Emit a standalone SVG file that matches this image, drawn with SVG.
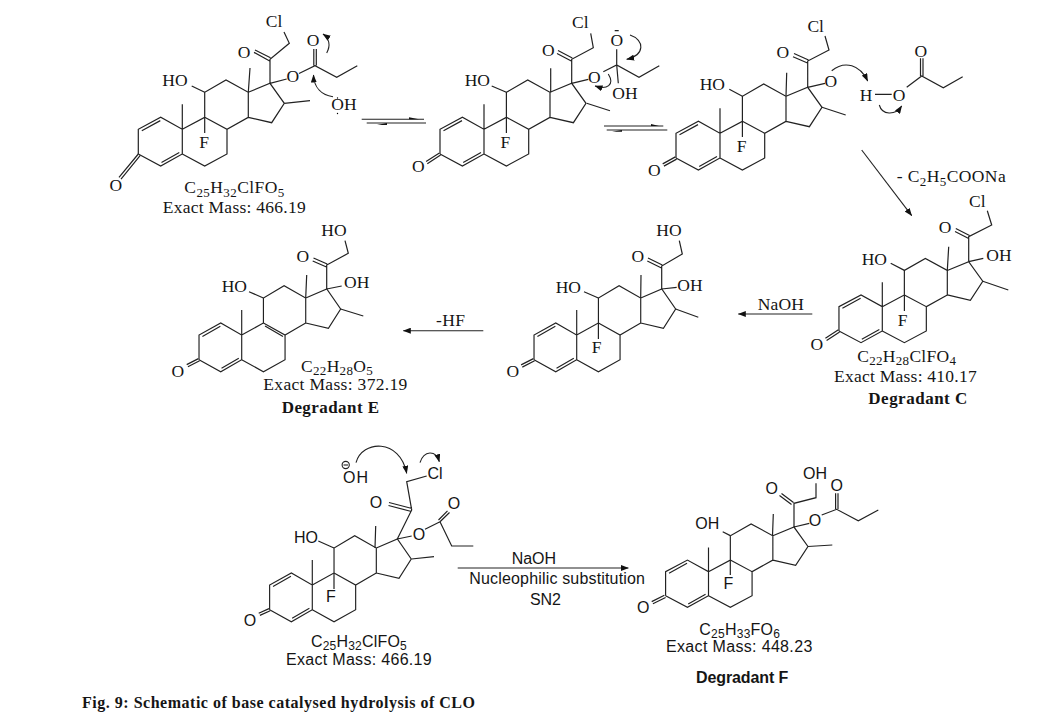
<svg xmlns="http://www.w3.org/2000/svg" width="1064" height="717" viewBox="0 0 1064 717">
<style>
.b{fill:none;stroke:#222;stroke-width:1.2}
.c{fill:none;stroke:#222;stroke-width:1.1}
.ar{marker-end:url(#h)}
text{fill:#151515;font-family:"Liberation Serif","Times New Roman",serif;font-size:17.5px}
.m{text-anchor:middle}
.s text,text.s{font-family:"Liberation Sans",Arial,sans-serif;font-size:16px}
text.k{font-weight:bold;font-size:17px}
.s text.k{font-size:16px}
text.cap{font-weight:bold;font-size:16px}
.u{font-size:13px}
.s .u{font-size:12px}
</style>
<defs>
<marker id="h" markerWidth="8" markerHeight="6" refX="7.5" refY="3" orient="auto" markerUnits="userSpaceOnUse"><path d="M0 0L8 3L0 6z" fill="#111"/></marker>
<path id="core" class="b" d="M-44 24.7V0L-21.6-12L0 0V24.7L-21.6 36.7L-44 24.7M0 0L22.4-12V-37L43.7-49.3L66-37V-12L44.7 0L22.4-12M66-12L44.7 0V24.7L22.4 36.7L0 24.7M0 0V-25M66-37L87.7-46L102-26L89.4-6.6L66-12M-40.5 1.5L-22-8.7M-20.8 33.3L-3 23.3"/>
</defs>

<g id="connectors">
<path class="c" d="M361.7 119.3H424M366.7 123H426M604 126H663.3M606.7 130H667.3"/>
<path d="M409 117.2L419 119.3H409zM377 125L387 123V125zM651 124L659 126H651zM612 131.8L622 130V131.8z" fill="#111"/>
<path class="c ar" d="M861.7 150L911.7 215.7"/>
<path class="c ar" d="M812.3 314H738.3"/>
<path class="c ar" d="M483.3 330.7H403.3"/>
<path class="c ar" d="M457.7 568H628.3"/>
<path class="c ar" d="M333 96.7C322 95 314 88 313.5 75"/>
<path class="c ar" d="M326.7 53C331 45 329 38 323 34"/>
<path class="c ar" d="M630 35C645 40 645 55 626.7 59.3"/>
<path class="c ar" d="M608.3 74C615 85 607 90 595 86"/>
<path class="c ar" d="M831.7 70.7C845 60 860 65 867.7 81"/>
<path class="c ar" d="M879.3 105C882 115 895 116 901.7 106"/>
<path class="c ar" d="M356 462.7C362 440 400 438 406.7 473.3"/>
<path class="c ar" d="M420 462.7C424 450 436 450 439.3 461.7"/>
</g>

<g id="clo-ester">
<use href="#core" transform="translate(182.3 129.3)"/>
<path class="b" d="M270 83.3V59.3L289.3 43.3L284 32M269.7 61L254 52.4M270.5 57.8L255 50M270 83.3L286.7 79M299 73.5L315 65.7L336.7 77.3L357.3 65.7M313.8 65.5V49M316.3 65.5V49M248.3 92.3L250 68M138.3 154L119 177.3M140.3 155.3L121 179.2M204.7 92.3L191.7 86M204.7 117.3V133M284.3 103.3L310 100.7"/>
<text class="m" x="274" y="26.7">Cl</text><text class="m" x="244" y="58">O</text><text class="m" x="175" y="85.5">HO</text><text class="m" x="292.7" y="82">O</text><text class="m" x="313" y="46">O</text><text class="m" x="344" y="110">OH</text><text class="m" x="115.7" y="190.5">O</text><text class="m" x="204" y="148">F</text>
<circle cx="337.5" cy="98" r=".7"/><circle cx="337.5" cy="113.5" r=".7"/>
<text x="184.3" y="193" textLength="100">C<tspan class="u" dy="4">25</tspan><tspan dy="-4">H</tspan><tspan class="u" dy="4">32</tspan><tspan dy="-4">ClFO</tspan><tspan class="u" dy="4">5</tspan></text>
<text x="162.7" y="213" textLength="143">Exact Mass: 466.19</text>
</g>

<g id="tetrahedral-intermediate">
<use href="#core" transform="translate(484 129.3)"/>
<path class="b" d="M571.7 83.3V59.3L593.3 47.7L590.7 33.3M571.3 61L557 53.5M572.3 58L558 50.5M571.7 83.3L588.3 79.3M603.3 71.7L616.7 65L639 77.3L659.3 65.7M616.7 65V49.3M616.7 65L618.3 83.3M586.7 103.3L610 110.7M550.7 92.3L550.7 68.3M440.6 155.1L427.3 163.8M439.4 152.9L426.1 161.6M506.4 92.3L491.7 86M506.4 117.3V133M614.7 30.7H618.7"/>
<text class="m" x="580.3" y="28">Cl</text><text class="m" x="548.3" y="55.5">O</text><text class="m" x="477.3" y="85.5">HO</text><text class="m" x="594.3" y="83">O</text><text class="m" x="616.7" y="45.5">O</text><text class="m" x="625" y="99">OH</text><text class="m" x="505.3" y="148">F</text><text class="m" x="418.3" y="172">O</text>
</g>

<g id="alkoxide-intermediate">
<use href="#core" transform="translate(720 133.3)"/>
<path class="b" d="M807.7 87.3V61L829 50L825 36M807.5 63L793 56.8M808.5 60L794 53.5M807.7 87.3L825 83.3M786 96.3L786.7 72.7M822 107.3L845.7 115M676.6 159.1L663.9 166.1M675.4 156.9L662.7 163.9M742.4 96.3L729.3 89.3M742.4 121.3V137M875 94.3H891.7M906.7 87.3L921.7 76L943.3 87.7L962.7 76.7M920.5 76V58.3M923 76V58.3"/>
<text class="m" x="815.7" y="32">Cl</text><text class="m" x="782.7" y="58">O</text><text class="m" x="712.3" y="89.5">HO</text><text class="m" x="830.7" y="86.5">O</text><text class="m" x="920.7" y="56.5">O</text><text class="m" x="866" y="100.5">H</text><text class="m" x="899" y="100.5">O</text><text class="m" x="741.7" y="151.5">F</text><text class="m" x="654.3" y="176">O</text>
</g>

<g id="degradant-c">
<use href="#core" transform="translate(882.3 306.7) scale(.985 .98)"/>
<path class="b" d="M968.7 261.6V236.7L991.7 225L987.3 210.7M968.7 238.5L955 231.5M969.5 235.5L955.8 228.5M968.7 261.6L983.3 258.3M947.3 270.4L948.7 246.7M982.8 281.2L1008.3 290M904.4 270.4L890.7 263.3M904.4 295V311M839.6 332L826.6 340.4M838.4 329.8L825.4 338.2"/>
<text class="m" x="977.3" y="207">Cl</text><text class="m" x="945" y="233">O</text><text class="m" x="999" y="260.5">OH</text><text class="m" x="874.3" y="265">HO</text><text class="m" x="902.7" y="325.5">F</text><text class="m" x="816.7" y="350">O</text>
<text x="857.3" y="361.7" textLength="98.7">C<tspan class="u" dy="3.5">22</tspan><tspan dy="-3.5">H</tspan><tspan class="u" dy="3.5">28</tspan><tspan dy="-3.5">ClFO</tspan><tspan class="u" dy="3.5">4</tspan></text>
<text x="834" y="381.7" textLength="142.7">Exact Mass: 410.17</text>
<text class="k" x="868.3" y="404.3" textLength="99">Degradant C</text>
</g>

<g id="hydroxy-fluoro-intermediate">
<use href="#core" transform="translate(576.7 335) scale(.97 1)"/>
<path class="b" d="M661.7 289V266L682.3 254L679.3 240.7M661.5 268L647.3 261M662.3 265L648 258M661.7 289L676.7 287.3M640.7 298L641 275M675.6 309L698.3 317.3M598.4 298L584 291.7M598.4 323V339M534.6 360.8L522.3 367.1M533.4 358.6L521.1 364.9"/>
<text class="m" x="669" y="236">HO</text><text class="m" x="637.7" y="262">O</text><text class="m" x="690" y="290.5">OH</text><text class="m" x="568.3" y="293">HO</text><text class="m" x="596.7" y="352.7">F</text><text class="m" x="512.7" y="377">O</text>
</g>

<g id="degradant-e">
<use href="#core" transform="translate(241.7 335) scale(.97 1)"/>
<path class="b" d="M326.7 289V265L348.3 253.3L345 240.7M326.5 267L312.7 261M327.2 264L313.5 258M326.7 289L341.7 286M305.7 298L306.7 275M340.6 309L363.3 316M263.4 298L249 291.7M265 326L283 336.5M199.6 360.8L187.9 366.8M198.4 358.6L186.7 364.6"/>
<text class="m" x="334" y="236">HO</text><text class="m" x="302.7" y="262">O</text><text class="m" x="356.7" y="288">OH</text><text class="m" x="234.3" y="292">HO</text><text class="m" x="177.7" y="377">O</text>
<text x="301" y="371.7" textLength="71.7">C<tspan class="u" dy="3.5">22</tspan><tspan dy="-3.5">H</tspan><tspan class="u" dy="3.5">28</tspan><tspan dy="-3.5">O</tspan><tspan class="u" dy="3.5">5</tspan></text>
<text x="263.3" y="390" textLength="144">Exact Mass: 372.19</text>
<text class="k" x="281.7" y="412.7" textLength="97.3">Degradant E</text>
</g>

<g id="clo-sn2" class="s">
<use href="#core" transform="translate(312.3 585) scale(.97 1)"/>
<path class="b" d="M397.3 539L411.7 510L406.7 481.7L426.7 476M411.4 511.5L388.5 505.5M412 508.5L389 502.5M397.3 539L411.7 536M425 529.3L440 521.7L451.7 546H473.3M440 521.7L449.5 512.5M438.5 520L447.5 510.8M375 548L375.7 526M411.5 559L434 556.7M334 548L318.3 541M334 573V589M270.2 610.8L259.9 615.4M269 608.6L258.7 613.2"/>
<circle class="c" cx="345.7" cy="465" r="3.6"/><path class="c" d="M343.5 465H348"/>
<text x="343" y="483" textLength="25">OH</text><text class="m" x="435" y="479">Cl</text><text class="m" x="376" y="508">O</text><text class="m" x="419" y="539.5">O</text><text class="m" x="454" y="509">O</text><text class="m" x="306" y="543">HO</text><text class="m" x="331" y="601.5">F</text><text class="m" x="250" y="625.5">O</text>
<text x="311" y="646.7" textLength="95.7">C<tspan class="u" dy="3">25</tspan><tspan dy="-3">H</tspan><tspan class="u" dy="3">32</tspan><tspan dy="-3">ClFO</tspan><tspan class="u" dy="3">5</tspan></text>
<text x="286" y="665" textLength="145.7">Exact Mass: 466.19</text>
</g>

<g id="degradant-f" class="s">
<use href="#core" transform="translate(708.5 571.7) scale(.975 .97)"/>
<path class="b" d="M794 527V503.3L816 497.7V483.3M791.5 504.5L779.5 495.5M793.5 502.5L781.5 493.5M794 527L809.3 523.3M821.7 515L836.7 509.3L858.3 520.7L878.3 510M835.6 509V493.3M838 509V493.3M772.5 536L773.3 514M808 546.5L832.3 545M730.3 535.6L722.7 531.7M730.3 560V575M665.6 597.5L652.9 603.8M664.4 595.3L651.7 601.6"/>
<text class="m" x="815" y="479">OH</text><text class="m" x="771.7" y="494">O</text><text class="m" x="815" y="526">O</text><text class="m" x="836.7" y="490.5">O</text><text class="m" x="707.3" y="529">OH</text><text class="m" x="728.3" y="589">F</text><text class="m" x="643.3" y="613">O</text>
<text x="699.3" y="634.5" textLength="80.7">C<tspan class="u" dy="3">25</tspan><tspan dy="-3">H</tspan><tspan class="u" dy="3">33</tspan><tspan dy="-3">FO</tspan><tspan class="u" dy="3">6</tspan></text>
<text x="666" y="652.3" textLength="146.3">Exact Mass: 448.23</text>
<text class="k" x="696" y="682.7" textLength="92.3">Degradant F</text>
</g>

<g id="labels">
<text x="896.7" y="181.7" textLength="109">- C<tspan class="u" dy="4">2</tspan><tspan dy="-4">H</tspan><tspan class="u" dy="4">5</tspan><tspan dy="-4">COONa</tspan></text>
<text x="757.7" y="310" textLength="46.3">NaOH</text>
<text x="436" y="326" textLength="29">-HF</text>
<text class="s" x="511.7" y="564" textLength="44.3">NaOH</text>
<text class="s" x="469.3" y="584.3" textLength="175.7">Nucleophilic substitution</text>
<text class="s" x="530" y="605" textLength="31">SN2</text>
<text class="cap" x="82" y="708" textLength="393">Fig. 9: Schematic of base catalysed hydrolysis of CLO</text>
</g>
</svg>
